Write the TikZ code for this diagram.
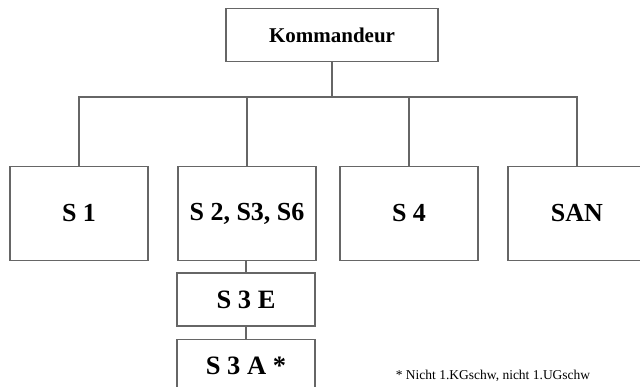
\documentclass[tikz,border=0pt]{standalone}
\usepackage{fontspec}
\setmainfont{Liberation Serif}
\begin{document}
\begin{tikzpicture}[x=1pt,y=-1pt,
  box/.style={draw=black!60, line width=1.1pt, fill=white, inner sep=0pt, font=\bfseries},
  link/.style={draw=black!60, line width=1.1pt},
  big/.style={font=\bfseries\fontsize{26}{28}\selectfont},
  mid/.style={font=\bfseries\fontsize{26.5}{28}\selectfont}]
\useasboundingbox (0,0) rectangle (640,387);
\clip (0,0) rectangle (640,387);
% top unit
\node[box, minimum width=212pt, minimum height=53pt, font=\bfseries\fontsize{21}{23}\selectfont] (kdr) at (332,35) {Kommandeur};
% staff sections
\node[box, big, minimum width=138pt, minimum height=94pt] (s1) at (79,213.5) {S 1};
\node[box, big, minimum width=138pt, minimum height=94pt] (s2) at (247,213.5) {S 2, S3, S6};
\node[box, big, minimum width=138pt, minimum height=94pt] (s4) at (409,213.5) {S 4};
\node[box, big, minimum width=138pt, minimum height=94pt] (san) at (577,213.5) {SAN};
% subordinate cells
\node[box, mid, minimum width=138pt, minimum height=53pt] (s3e) at (246,299.5) {S 3 E};
\node[box, minimum width=138pt, minimum height=53pt, anchor=north] (s3a) at (246,339) {};
\node[mid] (s3atxt) at (246,366) {S 3 A *};
% footnote
\node[font=\fontsize{13.5}{15}\selectfont] (note) at (493,376) {* Nicht 1.KGschw, nicht 1.UGschw};
% connectors
\coordinate (bus) at (0,97);
\draw[link] (kdr.south) -- (kdr.south |- bus);
\draw[link] (s1.north) -- (s1.north |- bus) -- (san.north |- bus) -- (san.north);
\draw[link] (s2.north) -- (s2.north |- bus);
\draw[link] (s4.north) -- (s4.north |- bus);
\draw[link] (s2.south -| s3e.north) -- (s3e.north);
\draw[link] (s3e.south) -- (s3a.north);
\end{tikzpicture}
\end{document}
